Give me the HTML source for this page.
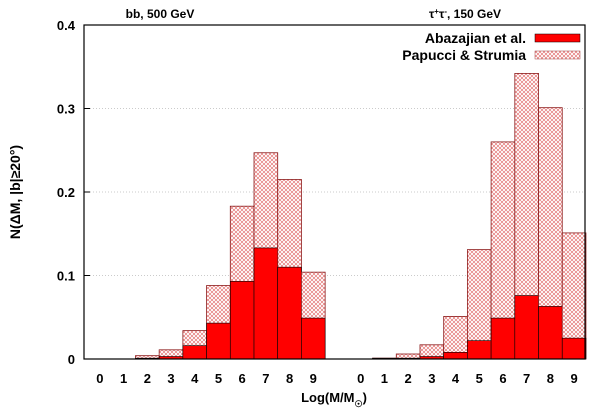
<!DOCTYPE html>
<html><head><meta charset="utf-8"><style>
body{margin:0;background:#fff}
svg text{font-family:"Liberation Sans",sans-serif;font-weight:bold;fill:#000}
</style></head><body>
<svg id="chart" width="600" height="410" xmlns="http://www.w3.org/2000/svg">
<defs>
<pattern id="hatch" width="4" height="4" patternUnits="userSpaceOnUse">
<rect width="4" height="4" fill="#fff"/>
<path d="M0,0L4,4M4,0L0,4" stroke="#e06060" stroke-width="0.6"/>
</pattern>
</defs>
<g id="grid"></g>
<g id="bars"></g>
<rect x="84" y="25" width="501" height="334" fill="none" stroke="#000" stroke-width="1.2"/>
<g id="axes"></g>
<text x="160" y="18" font-size="12" text-anchor="middle">bb, 500 GeV</text>
<text x="465" y="18" font-size="12" text-anchor="middle">τ<tspan baseline-shift="super" font-size="8">+</tspan>τ<tspan baseline-shift="super" font-size="8">-</tspan>, 150 GeV</text>
<g>
<text x="526" y="43" font-size="14" text-anchor="end">Abazajian et al.</text>
<rect x="535" y="34" width="45" height="8" fill="#ff0000" stroke="#000" stroke-width="0.5"/>
<text x="526" y="60" font-size="14" text-anchor="end">Papucci &amp; Strumia</text>
<rect x="535" y="51" width="45" height="8" fill="url(#hatch)" stroke="#a04040" stroke-width="0.5"/>
</g>
<text x="334" y="402" font-size="13" text-anchor="middle">Log(M/M<tspan baseline-shift="sub" font-size="9">☉</tspan>)</text>
<text transform="translate(20,192) rotate(-90)" font-size="14" text-anchor="middle">N(ΔM, |b|≥20°)</text>
</svg>
<script>
const categories=[0,1,2,3,4,5,6,7,8,9];
const bbRed=[0,0,0.001,0.003,0.016,0.043,0.093,0.133,0.110,0.049];
const bbHatch=[0,0,0.004,0.011,0.034,0.088,0.183,0.247,0.215,0.104];
const tauRed=[0,0.001,0.001,0.003,0.008,0.022,0.049,0.076,0.063,0.025];
const tauHatch=[0,0.001,0.006,0.017,0.051,0.131,0.260,0.342,0.301,0.151];
const yTicks=[0,0.1,0.2,0.3,0.4];
const yTickLabels=["0","0.1","0.2","0.3","0.4"];
const groupOffset=[0,11];
const NS="http://www.w3.org/2000/svg";
const X0=84,X1=585,Y0=359,Y1=25,DMIN=-0.67,DMAX=20.46;
function xs(v){return X0+(v-DMIN)/(DMAX-DMIN)*(X1-X0);}
function ys(v){return Y0-v/0.4*(Y0-Y1);}
const unit=xs(1)-xs(0);
function mk(t,a,p){const e=document.createElementNS(NS,t);for(const k in a)e.setAttribute(k,a[k]);p.appendChild(e);return e;}
const grid=document.getElementById('grid'),bars=document.getElementById('bars'),axes=document.getElementById('axes');
yTicks.forEach((t,i)=>{
 const y=ys(t);
 if(t>0&&t<0.4){const g=mk('line',{x1:X0,x2:X1,y1:y,y2:y,stroke:'#bbb','stroke-dasharray':'1,2','stroke-width':0.8},grid);
 
 }
 const tk=mk('line',{x1:X0,x2:X0+6,y1:y,y2:y,stroke:'#000'},axes);
 
 
 const tx=mk('text',{x:X0-9,y:y+5,'font-size':13,'text-anchor':'end'},axes);tx.textContent=yTickLabels[i];
 
 
});
[[bbRed,bbHatch],[tauRed,tauHatch]].forEach((s,g)=>{
 categories.forEach((c,i)=>{
  const p=c+groupOffset[g];const x=xs(p)-unit/2;
  const h=mk('rect',{x:x,y:ys(s[1][i]),width:unit,height:ys(0)-ys(s[1][i]),fill:'url(#hatch)',stroke:'#8b1a1a','stroke-width':0.8},bars);
  
  
  const r=mk('rect',{x:x,y:ys(s[0][i]),width:unit,height:ys(0)-ys(s[0][i]),fill:'#ff0000',stroke:'#000','stroke-width':0.6},bars);
  
  
  const t=mk('text',{x:xs(p),y:383,'font-size':13,'text-anchor':'middle'},axes);t.textContent=c;
  
  
 });
});
</script>
</body></html>
